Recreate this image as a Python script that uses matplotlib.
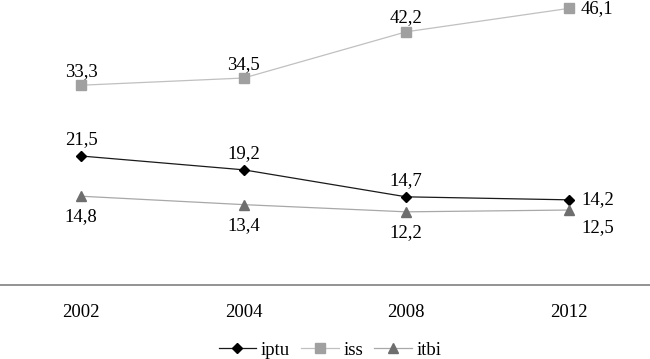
import matplotlib
matplotlib.use('Agg')
import matplotlib.pyplot as plt

years = ['2002', '2004', '2008', '2012']
iptu = [21.5, 19.2, 14.7, 14.2]
iss = [33.3, 34.5, 42.2, 46.1]
itbi = [14.8, 13.4, 12.2, 12.5]

plt.rcParams['font.family'] = ['Liberation Serif', 'DejaVu Serif']

fig = plt.figure(figsize=(6.5, 3.59), dpi=100)
ax = fig.add_axes([0, 0.206, 1, 0.794])
x = list(range(len(years)))

ax.plot(x, iptu, color='#1a1a1a', lw=0.9, marker='D', ms=5.5, mfc='black', mec='black', label='iptu')
ax.plot(x, iss, color='#c0c0c0', lw=0.9, marker='s', ms=7, mfc='#a0a0a0', mec='#a0a0a0', label='iss')
ax.plot(x, itbi, color='#a8a8a8', lw=0.9, marker='^', ms=7.5, mfc='#6e6e6e', mec='#6e6e6e', label='itbi')

def fmt(v):
    return ('%.1f' % v).replace('.', ',')

fs = 13.5
# iss labels: above, last one right
for i, v in enumerate(iss):
    if i < 3:
        ax.annotate(fmt(v), (i, v), xytext=(0, 10), textcoords='offset points', ha='center', va='center', fontsize=fs)
    else:
        ax.annotate(fmt(v), (i, v), xytext=(20, 0), textcoords='offset points', ha='center', va='center', fontsize=fs)
# iptu labels: above, last one right
for i, v in enumerate(iptu):
    if i < 3:
        ax.annotate(fmt(v), (i, v), xytext=(0, 12), textcoords='offset points', ha='center', va='center', fontsize=fs)
    else:
        ax.annotate(fmt(v), (i, v), xytext=(21, 0), textcoords='offset points', ha='center', va='center', fontsize=fs)
# itbi labels: below, last one below-right
for i, v in enumerate(itbi):
    if i < 3:
        ax.annotate(fmt(v), (i, v), xytext=(0, -15), textcoords='offset points', ha='center', va='center', fontsize=fs)
    else:
        ax.annotate(fmt(v), (i, v), xytext=(21, -13), textcoords='offset points', ha='center', va='center', fontsize=fs)

ax.set_xlim(-0.5, 3.5)
ax.set_ylim(0, 47.5)
ax.set_xticks(x)
ax.set_xticklabels(years, fontsize=fs)
ax.tick_params(axis='x', length=0, pad=14)
ax.set_yticks([])
for s in ['top', 'left', 'right']:
    ax.spines[s].set_visible(False)
ax.spines['bottom'].set_color('#808080')
ax.spines['bottom'].set_linewidth(1.2)

fig.legend(loc='center', bbox_to_anchor=(0.508, 0.025), ncol=3, frameon=False, fontsize=fs,
           handlelength=2.0, handletextpad=0.25, columnspacing=0.6)

fig.savefig('out.png', dpi=100)
